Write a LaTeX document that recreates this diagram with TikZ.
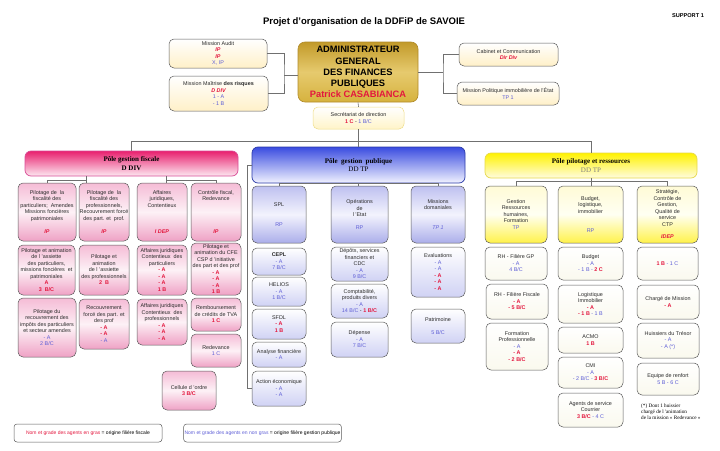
\documentclass[tikz,border=0pt]{standalone}
\usepackage{fontspec}
\setmainfont{Liberation Sans}
\newfontfamily\polefont{Liberation Serif}
\usepackage{xcolor}
\definecolor{fiscred}{HTML}{E3173E}
\definecolor{publblue}{HTML}{5E5ED6}
\definecolor{linegray}{HTML}{707070}
\definecolor{boxline}{HTML}{5A5A5A}
\definecolor{textgray}{HTML}{2A2A2A}
\newcommand{\rouge}[1]{\textcolor{fiscred}{\bfseries #1}}
\newcommand{\rougeit}[1]{\textcolor{fiscred}{\bfseries\itshape #1}}
\newcommand{\bleu}[1]{\textcolor{publblue}{#1}}
\tikzset{
    % Colors
    shadeGold/.style={top color=HTMLgoldTop, bottom color=HTMLgoldBot, middle color=HTMLgoldMid},
    shadeCream/.style={top color=white, bottom color=HTMLcreamBot},
    shadePink/.style={top color=HTMLpinkTop, bottom color=HTMLpinkBot, middle color=HTMLpinkMid},
    shadeBlue/.style={top color=HTMLblueTop, bottom color=HTMLblueBot, middle color=HTMLblueMid},
    shadeBlueLow/.style={top color=white, bottom color=HTMLblueLow},
    shadeYellow/.style={top color=HTMLyelTop, bottom color=HTMLyelBot, middle color=HTMLyelMid},
    shadeYellowLow/.style={top color=white, bottom color=HTMLyelLow},
    % Shapes
    wh/.style 2 args={minimum width=#1, minimum height=#2},
    box/.style={rectangle, rounded corners=5pt, draw=boxline, line width=0.5pt, align=center,
                inner xsep=0pt, inner ysep=1pt, text=textgray, font=\fontsize{5.4}{6.5}\selectfont},
    pole/.style={rectangle, rounded corners=6pt, line width=0.7pt, align=center,
                 text=black, font=\polefont\fontsize{7}{8.5}\selectfont},
    admin/.style={rectangle, rounded corners=7pt, draw=HTMLgoldLine, line width=0.6pt, align=center,
                  shadeGold, font=\bfseries\fontsize{9.3}{11.2}\selectfont},
    legend/.style={rectangle, rounded corners=3pt, draw=boxline, line width=0.5pt,
                   inner xsep=1pt, font=\fontsize{5}{6}\selectfont},
    % Flow & Labels
    link/.style={draw=linegray, line width=0.6pt}
}
\definecolor{HTMLgoldTop}{HTML}{C29A2A}
\definecolor{HTMLgoldMid}{HTML}{E6CA6E}
\definecolor{HTMLgoldBot}{HTML}{D6B23E}
\definecolor{HTMLgoldLine}{HTML}{B08A2A}
\definecolor{HTMLcreamBot}{HTML}{FFF0C8}
\definecolor{HTMLpinkTop}{HTML}{F5BCD6}
\definecolor{HTMLpinkMid}{HTML}{FDF1F6}
\definecolor{HTMLpinkBot}{HTML}{EFA2C5}
\definecolor{HTMLblueTop}{HTML}{BEC0F0}
\definecolor{HTMLblueMid}{HTML}{F3F3FD}
\definecolor{HTMLblueBot}{HTML}{ABAEEA}
\definecolor{HTMLblueLow}{HTML}{D0D2F4}
\definecolor{HTMLyelTop}{HTML}{FFFBD6}
\definecolor{HTMLyelMid}{HTML}{FFFFF2}
\definecolor{HTMLyelBot}{HTML}{FFF24A}
\definecolor{HTMLyelLow}{HTML}{FAF9EE}
\definecolor{pinkPoleTop}{HTML}{E8206E}
\definecolor{pinkPoleBot}{HTML}{FDE8F1}
\definecolor{pinkPoleLine}{HTML}{D94C96}
\definecolor{bluePoleTop}{HTML}{3A4CE0}
\definecolor{bluePoleBot}{HTML}{F2F3FF}
\definecolor{bluePoleLine}{HTML}{2A3AA8}
\definecolor{yelPoleTop}{HTML}{FFF200}
\definecolor{yelPoleBot}{HTML}{FFFCE0}
\definecolor{yelPoleLine}{HTML}{E6D84A}
\definecolor{secrLine}{HTML}{EEDD88}
\definecolor{secrBot}{HTML}{FFF4C8}

\begin{document}
\begin{tikzpicture}[x=1pt, y=-1pt]
\useasboundingbox (0,0) rectangle (720,450);

\node[font=\bfseries\fontsize{9.5}{11}\selectfont] (title) at (364,22) {Projet d’organisation de la DDFiP de SAVOIE};
\node[font=\bfseries\fontsize{5.6}{6.5}\selectfont] (support) at (688,16) {SUPPORT 1};

% Direction
\node[admin, wh={120}{60}] (admin) at (358,72) {ADMINISTRATEUR\\GENERAL\\DES FINANCES\\PUBLIQUES\\\textcolor{fiscred}{Patrick CASABIANCA}};
\node[box, shadeCream, wh={98}{29}] (audit) at (218,53.5) {Mission Audit\\\rougeit{IP}\\\rougeit{IP}\\\bleu{X, IP}};
\node[box, shadeCream, wh={99}{35}] (maitrise) at (218.5,93.5) {Mission Maîtrise \textbf{des risques}\\\rougeit{D DIV}\\\bleu{1 - A}\\\bleu{- 1 B}};
\node[box, shadeCream, wh={99}{23}] (cabinet) at (508.5,54.5) {Cabinet et Communication\\\rougeit{Dir Div}};
\node[box, shadeCream, wh={102}{23}] (politique) at (508,93.5) {Mission Politique immobilière de l’État\\\bleu{TP 1}};
\node[box, draw=secrLine, top color=white, bottom color=secrBot, wh={91}{22}] (secr) at (358.5,118) {Secrétariat de direction\\\rouge{1 C} - \bleu{1 B/C}};

% Poles
\node[pole, draw=pinkPoleLine, top color=pinkPoleTop, bottom color=pinkPoleBot, wh={213}{25}] (pgf) at (131.5,163.5) {\bfseries Pôle gestion fiscale\\\bfseries D DIV};
\node[pole, draw=bluePoleLine, top color=bluePoleTop, bottom color=bluePoleBot, wh={213}{36}] (pgp) at (358.5,165) {\bfseries Pôle~ gestion~ publique\\DD TP};
\node[pole, draw=yelPoleLine, top color=yelPoleTop, bottom color=yelPoleBot, wh={212}{25}] (pgr) at (591,165.5) {\bfseries Pôle pilotage et ressources\\\textcolor{gray}{DD TP}};

% Pole gestion fiscale
\node[box, shadePink, wh={58}{58}] (pf1) at (47,212) {Pilotage de~ la\\fiscalité des\\particuliers;~ Amendes\\Missions foncières\\patrimoniales\\[7pt]\rougeit{IP}};
\node[box, shadePink, wh={50}{58}] (pf2) at (104,212) {Pilotage de~ la\\fiscalité des\\professionnels,\\Recouvrement forcé\\des part. et~ prof.\\[7pt]\rougeit{IP}};
\node[box, shadePink, wh={50}{58}] (pf3) at (162,212) {Affaires\\juridiques,\\Contentieux\\[20pt]\rougeit{I DEP}};
\node[box, shadePink, wh={50}{58}] (pf4) at (216,212) {Contrôle fiscal,\\Redevance\\[26pt]\rougeit{IP}};

\node[box, shadePink, wh={57}{50}] (pa1) at (46.5,270) {Pilotage et animation\\de l 'assiette\\des particuliers,\\missions foncières~ et\\patrimoniales\\\rouge{A}\\\rouge{3~ B/C}};
\node[box, shadePink, wh={50}{50}] (pa2) at (104,270) {Pilotage et\\animation\\de l 'assiette\\des professionnels\\\rouge{2~ B}};
\node[box, shadePink, wh={50}{50}] (pa3) at (162,270) {Affaires juridiques\\Contentieux~ des\\particuliers\\\rouge{- A}\\\rouge{- A}\\\rouge{- A}\\\rouge{1 B}};
\node[box, shadePink, wh={50}{52}] (pa4) at (216,269) {Pilotage et\\animation du CFE\\CSP d 'initiative\\des part et des prof\\\rouge{- A}\\\rouge{- A}\\\rouge{- A}\\\rouge{1 B}};

\node[box, shadePink, wh={58}{59}] (pr1) at (47,327.5) {Pilotage du\\recouvrement des\\impôts des particuliers\\et secteur amendes\\\bleu{- A}\\\bleu{2 B/C}};
\node[box, shadePink, wh={50}{50}] (pr2) at (104,324) {Recouvrement\\forcé des part. et\\des prof\\\rouge{- A}\\\rouge{- A}\\\bleu{- A}};
\node[box, shadePink, wh={50}{46}] (pr3) at (162,322) {Affaires juridiques\\Contentieux~ des\\professionnels\\\rouge{- A}\\\rouge{- A}\\\rouge{- A}};
\node[box, shadePink, wh={50}{33}] (pr4) at (216,314.5) {Remboursement\\de crédits de TVA\\\rouge{1 C}};
\node[box, shadePink, wh={50}{33}] (pd4) at (216,350.5) {Redevance\\\bleu{1 C}};
\node[box, shadePink, wh={54}{39}] (pcell) at (189,390.5) {Cellule d 'ordre\\\rouge{3 B/C}};

% Pole gestion publique
\node[box, shadeBlue, wh={54}{57}] (bp1) at (279,214.5) {SPL\\[13pt]\bleu{RP}};
\node[box, shadeBlue, wh={57}{57}] (bp2) at (359.5,214.5) {Opérations\\de\\l 'Etat\\[6pt]\bleu{RP}};
\node[box, shadeBlue, wh={54}{57}] (bp3) at (438,214.5) {Missions\\domaniales\\[13pt]\bleu{\itshape TP 1}};

\node[box, shadeBlueLow, wh={54}{27}] (sp1) at (279,261.5) {\textbf{CEPL}\\\bleu{- A}\\\bleu{7 B/C}};
\node[box, shadeBlueLow, wh={54}{29}] (sp2) at (279,291.5) {HELIOS\\\bleu{- A}\\\bleu{1 B/C}};
\node[box, shadeBlueLow, wh={54}{30}] (sp3) at (279,324) {SFDL\\\rouge{- A}\\\rouge{1 B}};
\node[box, shadeBlueLow, wh={54}{25}] (sp4) at (279,354.5) {Analyse financière\\\bleu{- A}};
\node[box, shadeBlueLow, wh={54}{35}] (sp5) at (279,388.5) {Action économique\\\bleu{- A}\\\bleu{- A}};

\node[box, shadeBlueLow, wh={57}{34}] (op1) at (359.5,264) {Dépôts, services\\financiers et\\CDC\\\bleu{- A}\\\bleu{9 B/C}};
\node[box, shadeBlueLow, wh={57}{34}] (op2) at (359.5,301) {Comptabilité,\\produits divers\\\bleu{- A}\\\bleu{14 B/C} - \rouge{1 B/C}};
\node[box, shadeBlueLow, wh={57}{35}] (op3) at (359.5,339.5) {Dépense\\\bleu{- A}\\\bleu{7 B/C}};

\node[box, shadeBlueLow, wh={54}{50}] (md1) at (438,272) {Evaluations\\\bleu{- A}\\\bleu{- A}\\\rouge{- A}\\\rouge{- A}\\\rouge{- A}};
\node[box, shadeBlueLow, wh={54}{34}] (md2) at (438,326) {Patrimoine\\[6pt]\bleu{5 B/C}};

% Pole pilotage et ressources
\node[box, shadeYellow, wh={62}{57}] (yr1) at (516,214.5) {Gestion\\Ressources\\humaines,\\Formation\\\bleu{TP}};
\node[box, shadeYellow, wh={65}{57}] (yr2) at (590.5,214.5) {Budget,\\logistique,\\immobilier\\[13pt]\bleu{RP}};
\node[box, shadeYellow, wh={61}{57}] (yr3) at (667.5,214.5) {Stratégie,\\Contrôle de\\Gestion,\\Qualité de\\service\\CTP\\[6pt]\rougeit{IDEP}};

\node[box, shadeYellowLow, wh={62}{33}] (rh1) at (516,263.5) {RH - Filière GP\\\bleu{- A}\\\bleu{4 B/C}};
\node[box, shadeYellowLow, wh={62}{35}] (rh2) at (517,301.5) {RH - Filière Fiscale\\\rouge{- A}\\\rouge{- 5 B/C}};
\node[box, shadeYellowLow, wh={62}{47}] (fo1) at (517,346.5) {Formation\\Professionnelle\\\bleu{- A}\\\rouge{- A}\\\rouge{- 2 B/C}};

\node[box, shadeYellowLow, wh={65}{33}] (bu1) at (590.5,263.5) {Budget\\\bleu{- A}\\\bleu{- 1 B -} \rouge{2 C}};
\node[box, shadeYellowLow, wh={65}{38}] (lo1) at (590.5,304) {Logistique\\Immobilier\\\rouge{- A}\\\rouge{- 1 B} \bleu{- 1 B}};
\node[box, shadeYellowLow, wh={65}{26}] (ac1) at (590.5,340) {ACMO\\\rouge{1 B}};
\node[box, shadeYellowLow, wh={65}{31}] (cm1) at (590.5,372.5) {CMI\\\bleu{- A}\\\bleu{- 2 B/C -} \rouge{3 B/C}};
\node[box, shadeYellowLow, wh={65}{34}] (ag1) at (590.5,410) {Agents de service\\Courrier\\\rouge{3 B/C} \bleu{- 4 C}};

\node[box, shadeYellowLow, wh={61}{33}] (st1) at (667.5,263.5) {\rouge{1 B} \bleu{- 1 C}};
\node[box, shadeYellowLow, wh={62}{34}] (ch1) at (668,302) {Chargé de Mission\\\rouge{- A}};
\node[box, shadeYellowLow, wh={62}{35}] (hu1) at (668,340.5) {Huissiers du Trésor\\\bleu{- A}\\\bleu{- A (*)}};
\node[box, shadeYellowLow, wh={62}{32}] (eq1) at (668,379) {Equipe de renfort\\\bleu{5 B - 6 C}};
\node[anchor=west, align=left, inner sep=0pt, font=\polefont\fontsize{5.2}{6.2}\selectfont] (note) at (641,411.5) {(*) Dont 1 huissier\\chargé de l 'animation\\de la mission « Redevance »};

% Legend
\node[legend, wh={148}{18}] (lgfisc) at (88,433) {\textcolor{fiscred}{Nom et grade des agents en gras} = origine filière fiscale};
\node[legend, wh={157}{18}] (lgpubl) at (262.5,433) {\textcolor{publblue}{Nom et grade des agents en non gras} = origine filière gestion publique};

% Links
\coordinate (jl) at (284,75);
\coordinate (jr) at (443,72);
\draw[link] (audit.east) -| (jl) |- (maitrise.east);
\draw[link] (jl) -- (admin.west |- jl);
\draw[link] (cabinet.west) -| (jr) |- (politique.west);
\draw[link] (admin.east |- jr) -- (jr);
\draw[link] (admin.south) -- (secr.north);
\draw[link] (secr.south) -- (pgp.north);

\coordinate (barl) at (131,141);
\coordinate (barr) at (591,141);
\draw[link] (pgf.north -| barl) -- (barl) -- (barr) -- (pgr.north -| barr);

\coordinate (fjl) at (86,180);
\coordinate (fjr) at (166,180);
\draw[link] (pgf.south -| fjl) -- (fjl) -| (pf1.north);
\draw[link] (fjl) -- (fjl |- pf2.north);
\draw[link] (pgf.south -| fjr) -- (fjr) -| (pf4.north);
\draw[link] (fjr) -- (fjr |- pf3.north);

\draw[link] (bp1.north) -- ++(0,-2) -| (bp3.north);
\draw[link] (pgp.south) -- (pgp.south |- bp2.north);
\draw[link] (pgp.west) -- ++(-4,0) |- (sp5.west);

\draw[link] (yr1.north) -- ++(0,-4) -| (yr3.north);
\draw[link] (pgr.south) -- (pgr.south |- yr2.north);

\end{tikzpicture}
\end{document}
